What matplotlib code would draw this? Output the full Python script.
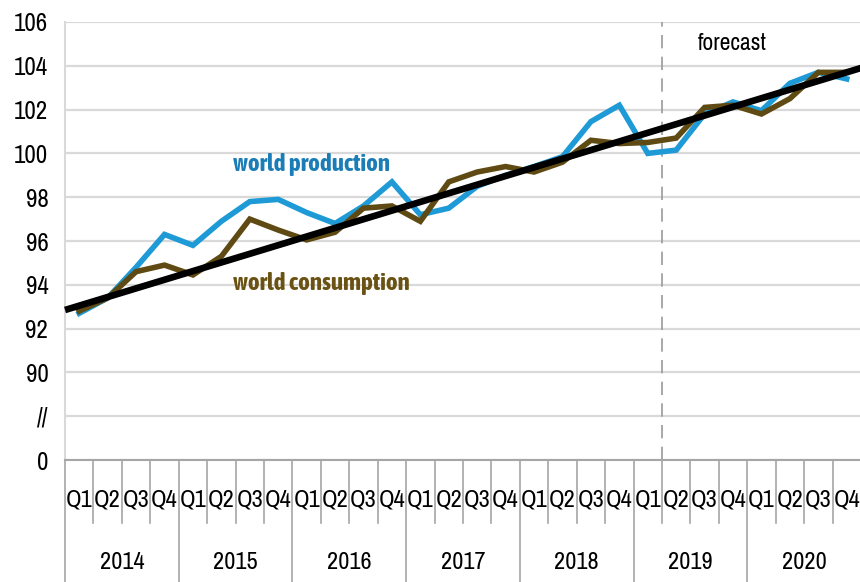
import numpy as np
import matplotlib
matplotlib.use('Agg')
from matplotlib import pyplot as plt

plt.rcParams['font.family'] = ['Archivo Narrow', 'Liberation Sans', 'DejaVu Sans']
label_font = ['Asap Condensed', 'Liberation Sans', 'DejaVu Sans']

years = ['2014', '2015', '2016', '2017', '2018', '2019', '2020']
quarters = ['Q1', 'Q2', 'Q3', 'Q4']

production = [92.7, 93.4, 94.8, 96.3, 95.8, 96.9, 97.8, 97.9,
              97.3, 96.8, 97.6, 98.7, 97.2, 97.5, 98.5, 99.0,
              99.4, 99.85, 101.45, 102.2, 100.0, 100.15, 101.8, 102.35,
              101.95, 103.2, 103.7, 103.4]
consumption = [92.8, 93.4, 94.6, 94.9, 94.45, 95.3, 97.0, 96.5,
               96.05, 96.4, 97.5, 97.6, 96.9, 98.7, 99.15, 99.4,
               99.15, 99.6, 100.6, 100.45, 100.5, 100.7, 102.1, 102.2,
               101.8, 102.5, 103.7, 103.7]
trend_x = [-0.5, 27.5]
trend_y = [92.85, 103.9]

ytick_pos = [86, 88, 90, 92, 94, 96, 98, 100, 102, 104, 106]
ytick_lab = ['0', '//', '90', '92', '94', '96', '98', '100', '102', '104', '106']

forecast_x = 20.5

blue = '#1E9AD6'
brown = '#5E4A12'


def main():
    fig = plt.figure(figsize=(8.6, 5.82), dpi=100)
    ax = fig.add_axes([0.0756, 0.2096, 0.9255, 0.7526])

    x = np.arange(len(production))
    ax.plot(x, production, color=blue, lw=4.0, solid_joinstyle='miter', zorder=3)
    ax.plot(x, consumption, color=brown, lw=4.0, solid_joinstyle='miter', zorder=4)
    ax.plot(trend_x, trend_y, color='black', lw=4.8, zorder=5, clip_on=False,
            solid_capstyle='butt')

    ax.set_xlim(-0.5, 27.5)
    ax.set_ylim(86, 106)
    ax.set_yticks(ytick_pos)
    ax.set_yticklabels(ytick_lab, fontsize=18)
    ax.tick_params(axis='y', length=0, pad=12)
    ax.set_xticks([])
    ax.grid(axis='y', color='#D9D9D9', lw=1.6)
    ax.set_axisbelow(True)

    for s in ['top', 'right']:
        ax.spines[s].set_visible(False)
    ax.spines['left'].set_color('#D9D9D9')
    ax.spines['left'].set_linewidth(1.5)
    ax.spines['bottom'].set_color('#A6A6A6')
    ax.spines['bottom'].set_linewidth(1.5)

    ax.axvline(forecast_x, color='#9A9A9A', lw=1.2, ls=(0, (8, 5)), zorder=2)
    ax.text(21.75, 105.0, 'forecast', fontsize=17, va='center', ha='left')

    ax.text(5.4, 99.5, 'world production', color='#1B7DB7', fontsize=18,
            fontweight='bold', family=label_font, va='center', ha='left')
    ax.text(5.4, 94.05, 'world consumption', color='#6A5214', fontsize=18,
            fontweight='bold', family=label_font, va='center', ha='left')

    # category axis: quarter and year boxes
    trans = ax.get_xaxis_transform()
    for k in range(len(production) + 1):
        b = k - 0.5
        bottom = -0.279 if k % 4 == 0 else -0.144
        ax.plot([b, b], [0, bottom], color='#A6A6A6', lw=1.2,
                transform=trans, clip_on=False)
    for i in range(len(production)):
        ax.text(i, -0.091, quarters[i % 4], transform=trans, fontsize=17.5,
                ha='center', va='center')
    for j, yr in enumerate(years):
        ax.text(4 * j + 1.5, -0.235, yr, transform=trans, fontsize=17.5,
                ha='center', va='center')

    fig.savefig('out.png', dpi=100)


if __name__ == "__main__":
    main()
